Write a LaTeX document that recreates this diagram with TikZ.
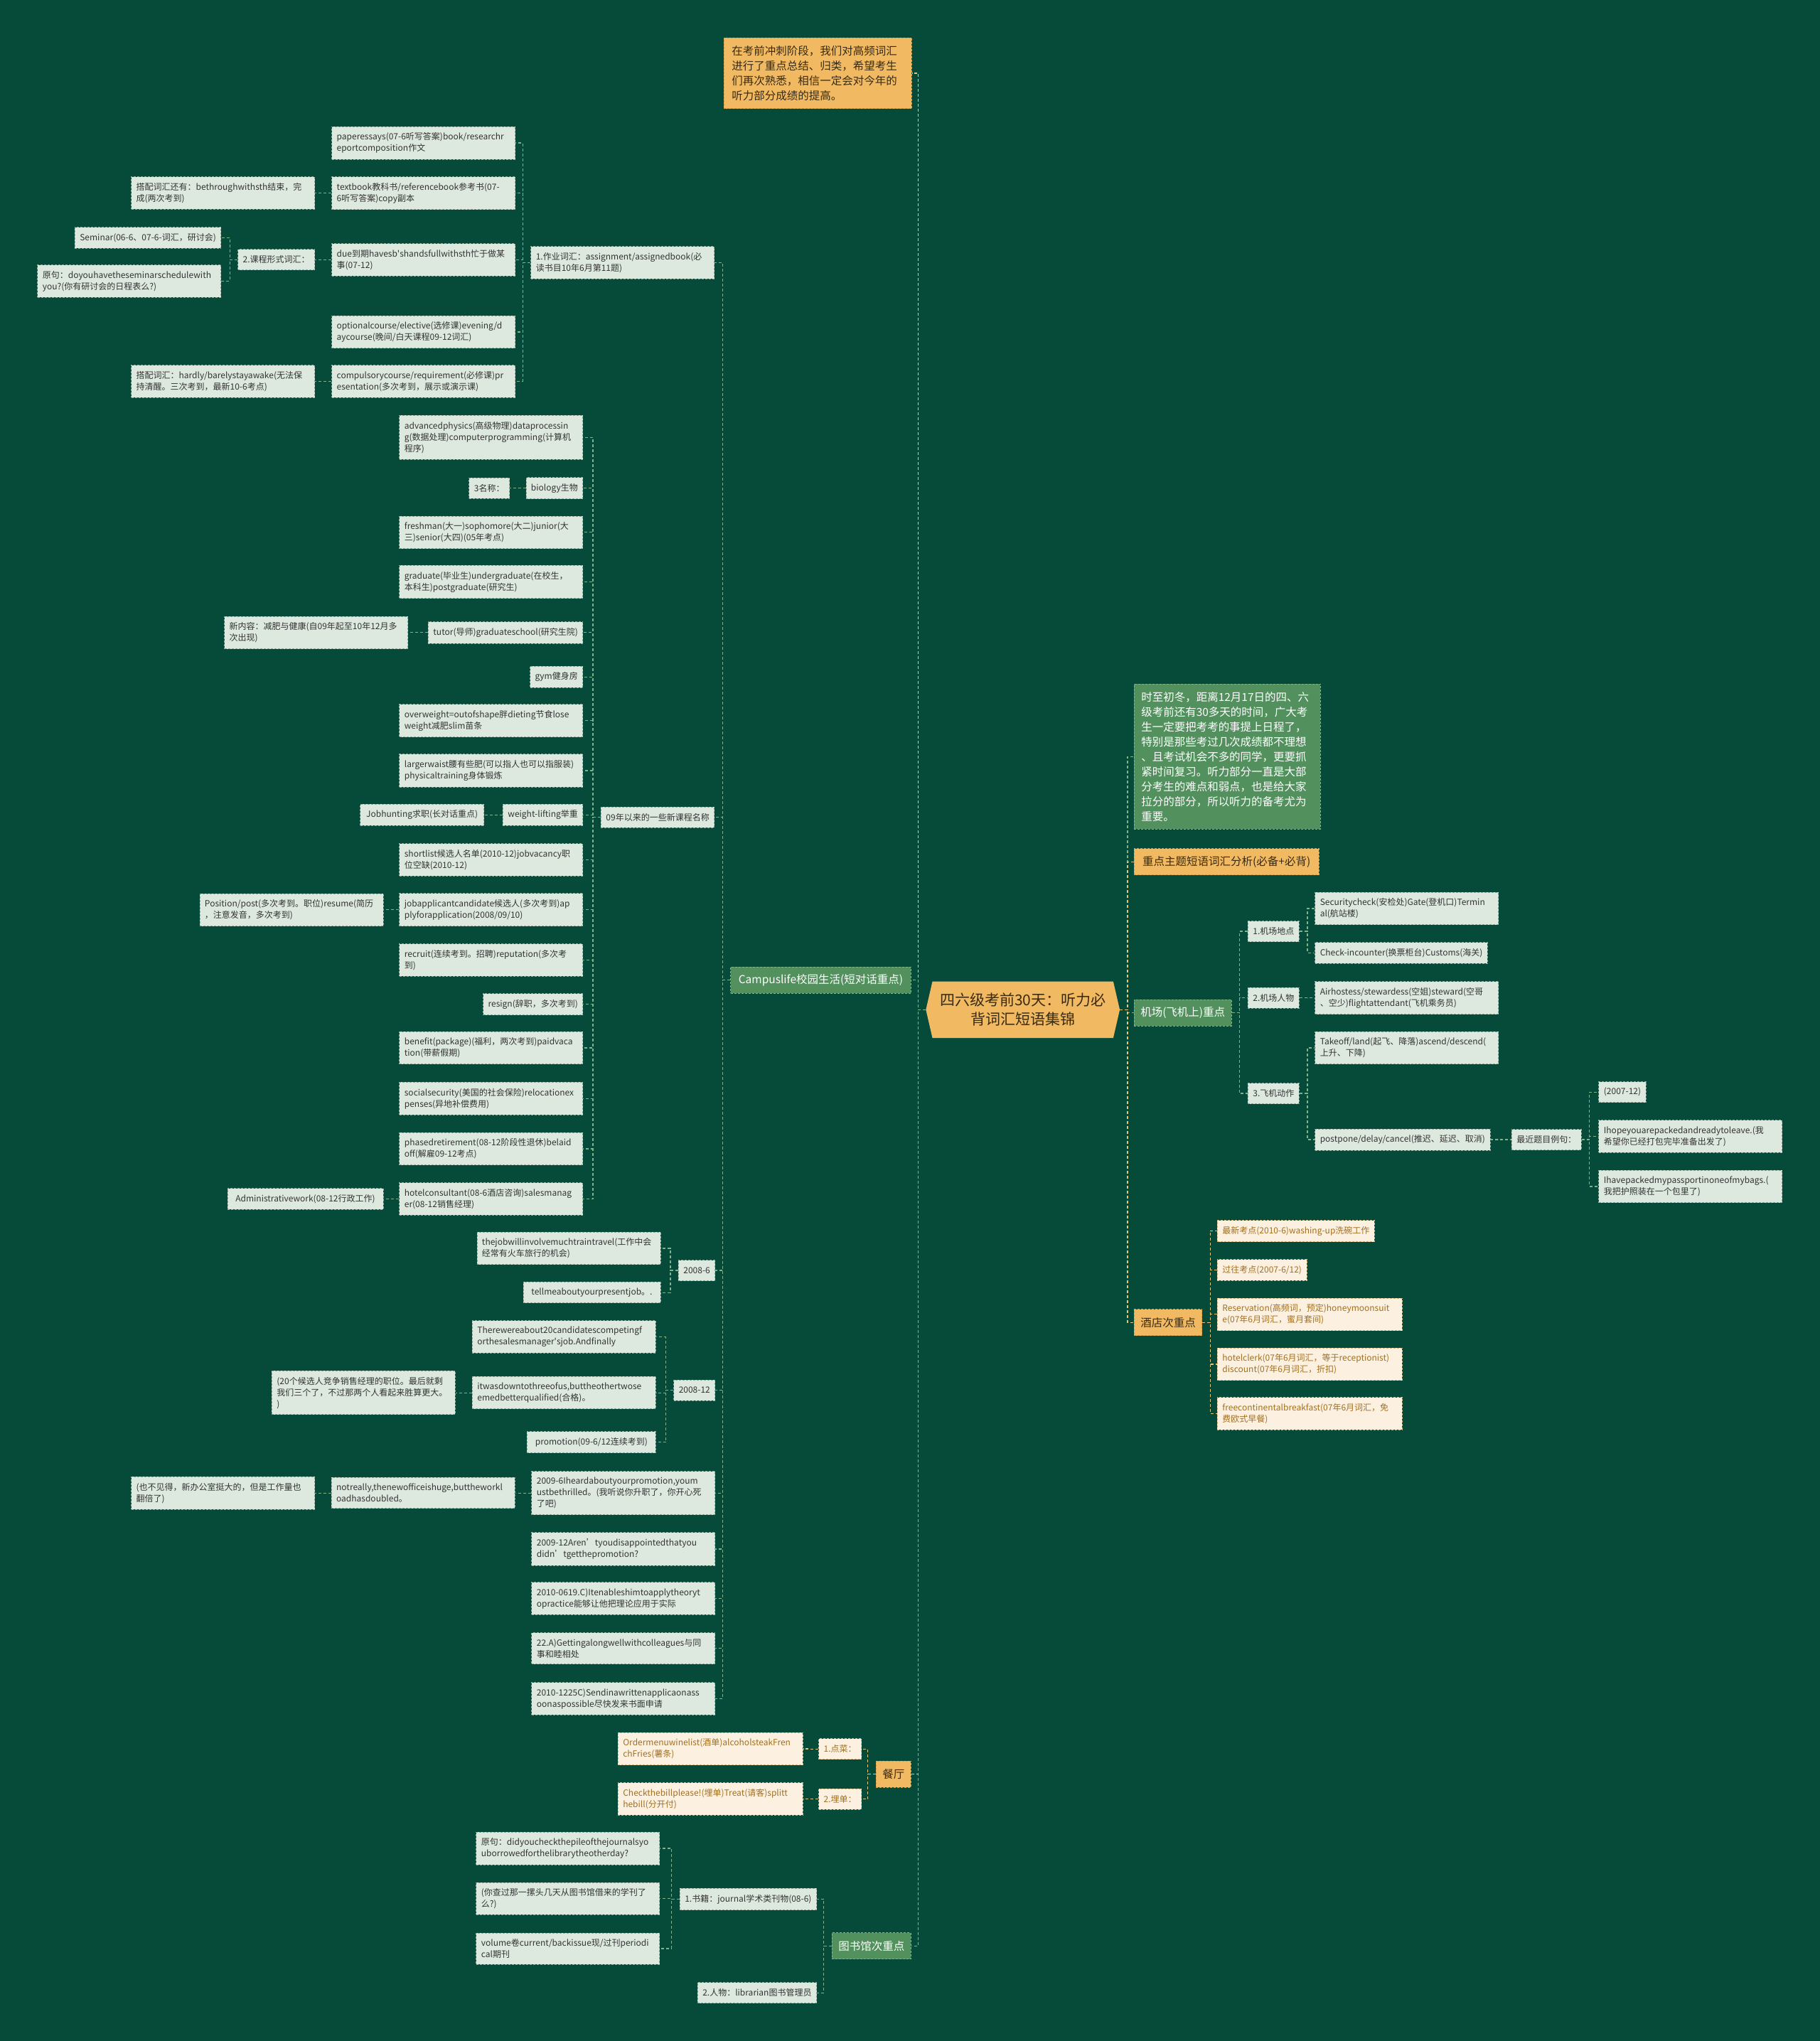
\documentclass[tikz,border=0pt]{standalone}
\usepackage{fontspec}
\setmainfont{Noto Sans CJK SC}
\usetikzlibrary{calc}
\definecolor{bgc}{HTML}{064A3A}
\definecolor{lfill}{HTML}{DDE9DF}
\definecolor{lbord}{HTML}{8FA898}
\definecolor{ltext}{HTML}{333333}
\definecolor{gfill}{HTML}{52915D}
\definecolor{gbord}{HTML}{7DB489}
\definecolor{ofill}{HTML}{F1BA62}
\definecolor{obord}{HTML}{CF9D48}
\definecolor{otext}{HTML}{3A2A10}
\definecolor{bfill}{HTML}{FCF1E1}
\definecolor{bbord}{HTML}{D2B67E}
\definecolor{btext}{HTML}{A26F1F}
\definecolor{lineg}{HTML}{7FB38C}
\definecolor{liney}{HTML}{E3C679}
\pgfdeclarelayer{bottom}
\pgfdeclarelayer{background}
\pgfsetlayers{bottom,background,main}
\newcommand\fs[2]{\fontsize{#1}{#2}\selectfont}
\newcommand\eL[3][lkg]{\draw[#1] (#2.west) -- ++(-6,0) |- (#3.east);}
\newcommand\eR[3][lkg]{\draw[#1] (#2.east) -- ++(6,0) |- (#3.west);}
\newcommand\eLc[3][lkg]{\draw[#1] (#2) -- ++(-6,0) |- (#3.east);}
\newcommand\eRc[3][lkg]{\draw[#1] (#2) -- ++(6,0) |- (#3.west);}
\tikzset{
 box/.style={rectangle, inner xsep=7pt, inner ysep=8.5pt, minimum height=29pt, align=left, font=\fs{12pt}{16pt}, dash pattern=on 3pt off 2pt, line width=0.9pt},
 lb/.style={box, fill=lfill, draw=lbord, text=ltext},
 lw/.style={lb, text width=244pt},
 bb/.style={box, fill=bfill, draw=bbord, text=btext},
 bw/.style={bb, text width=246pt},
 branch/.style={rectangle, inner xsep=9pt, inner ysep=6pt, minimum height=37pt, font=\fs{15.5pt}{20pt}, dash pattern=on 3pt off 2pt, line width=0.9pt},
 gb/.style={branch, fill=gfill, draw=gbord, text=white},
 ob/.style={branch, fill=ofill, draw=obord, text=otext},
 lkg/.style={draw=lineg, line width=1.2pt, dash pattern=on 4pt off 3pt},
 lky/.style={draw=liney, line width=1.2pt, dash pattern=on 4pt off 3pt},
}
\begin{document}
\begin{tikzpicture}[x=1.8312pt,y=-1.8312pt]
\begin{pgfonlayer}{bottom}
\fill[bgc] (0,0) rectangle (1398,1568);
\end{pgfonlayer}
\useasboundingbox (0,0) rectangle (1398,1568);

% ---------- centre ----------
\node[font=\fs{21pt}{27pt}, text=otext, align=center, text width=254pt, minimum height=79pt, inner sep=0pt] (c) at (785.75,775.7) {四六级考前30天：听力必\\背词汇短语集锦};
\begin{pgfonlayer}{background}
\fill[ofill] (c.north west) -- (c.north east) -- ($(c.east)+(5,0)$) -- (c.south east) -- (c.south west) -- ($(c.west)+(-5,0)$) -- cycle;
\end{pgfonlayer}
\coordinate (cL) at ($(c.west)+(-5,0)$);
\coordinate (cR) at ($(c.east)+(5,0)$);

% ---------- left first level ----------
\node[ob, anchor=east, font=\fs{15.5pt}{21pt}, align=left, text width=242pt, inner xsep=11pt, inner ysep=11pt] (tn) at (700.6,56.2) {在考前冲刺阶段，我们对高频词汇\\进行了重点总结、归类，希望考生\\们再次熟悉，相信一定会对今年的\\听力部分成绩的提高。};
\node[gb, anchor=east, minimum width=253.6pt] (camp) at (700,753) {Campuslife校园生活(短对话重点)};
\node[ob, anchor=east] (rest) at (700,1363) {餐厅};
\node[gb, anchor=east] (lib) at (700,1495) {图书馆次重点};

% ---------- campus children ----------
\node[lw, anchor=east] (c1) at (549,201.8) {1.作业词汇：assignment/assignedbook(必\\读书目10年6月第11题)};
\node[lb, anchor=east] (c2) at (549,628) {09年以来的一些新课程名称};
\node[lb, anchor=east] (c3) at (549.6,976) {2008-6};
\node[lb, anchor=east] (c4) at (549.6,1068) {2008-12};
\node[lw, anchor=east] (c5) at (549.6,1147) {2009-6Iheardaboutyourpromotion,youm\\ustbethrilled。(我听说你升职了，你开心死\\了吧)};
\node[lw, anchor=east] (c6) at (549.6,1190) {2009-12Aren’tyoudisappointedthatyou\\didn’tgetthepromotion?};
\node[lw, anchor=east] (c7) at (549.6,1228) {2010-0619.C)Itenableshimtoapplytheoryt\\opractice能够让他把理论应用于实际};
\node[lw, anchor=east] (c8) at (549.6,1266.4) {22.A)Gettingalongwellwithcolleagues与同\\事和睦相处};
\node[lw, anchor=east] (c9) at (549.6,1305) {2010-1225C)Sendinawrittenapplicaonass\\oonaspossible尽快发来书面申请};

% c1 subtree
\node[lw, anchor=east] (c1a) at (396,109.8) {paperessays(07-6听写答案)book/researchr\\eportcomposition作文};
\node[lw, anchor=east] (c1b) at (396,148.3) {textbook教科书/referencebook参考书(07-\\6听写答案)copy副本};
\node[lw, anchor=east] (c1c) at (396,199.5) {due到期havesb\textquotesingle shandsfullwithsth忙于做某\\事(07-12)};
\node[lw, anchor=east] (c1d) at (396,255) {optionalcourse/elective(选修课)evening/d\\aycourse(晚间/白天课程09-12词汇)};
\node[lw, anchor=east] (c1e) at (396,293) {compulsorycourse/requirement(必修课)pr\\esentation(多次考到，展示或演示课)};
\node[lw, anchor=east] (c1b1) at (242,148.3) {搭配词汇还有：bethroughwithsth结束，完\\成(两次考到)};
\node[lb, anchor=east] (c1c1) at (242,199.5) {2.课程形式词汇：};
\node[lb, anchor=east] (c1c1a) at (170,182.6) {Seminar(06-6、07-6-词汇，研讨会)};
\node[lw, anchor=east] (c1c1b) at (170,216) {原句：doyouhavetheseminarschedulewith\\you?(你有研讨会的日程表么?)};
\node[lw, anchor=east] (c1e1) at (242,293) {搭配词汇：hardly/barelystayawake(无法保\\持清醒。三次考到，最新10-6考点)};

% c2 subtree
\node[lw, anchor=east] (c2a) at (448,336) {advancedphysics(高级物理)dataprocessin\\g(数据处理)computerprogramming(计算机\\程序)};
\node[lb, anchor=east] (c2b) at (448,375) {biology生物};
\node[lb, anchor=east] (c2b1) at (391.6,375) {3名称：};
\node[lw, anchor=east] (c2c) at (448,409) {freshman(大一)sophomore(大二)junior(大\\三)senior(大四)(05年考点)};
\node[lw, anchor=east] (c2d) at (448,447) {graduate(毕业生)undergraduate(在校生，\\本科生)postgraduate(研究生)};
\node[lb, anchor=east] (c2e) at (448,486) {tutor(导师)graduateschool(研究生院)};
\node[lw, anchor=east] (c2e1) at (313.5,486) {新内容：减肥与健康(自09年起至10年12月多\\次出现)};
\node[lb, anchor=east] (c2f) at (448,520) {gym健身房};
\node[lw, anchor=east] (c2g) at (448,553.6) {overweight=outofshape胖dieting节食lose\\weight减肥slim苗条};
\node[lw, anchor=east] (c2h) at (448,592) {largerwaist腰有些肥(可以指人也可以指服装)\\physicaltraining身体锻炼};
\node[lb, anchor=east] (c2i) at (448,626) {weight-lifting举重};
\node[lb, anchor=east, minimum width=174pt] (c2i1) at (372,626) {Jobhunting求职(长对话重点)};
\node[lw, anchor=east] (c2j) at (448,660.5) {shortlist候选人名单(2010-12)jobvacancy职\\位空缺(2010-12)};
\node[lw, anchor=east] (c2k) at (448,699) {jobapplicantcandidate候选人(多次考到)ap\\plyforapplication(2008/09/10)};
\node[lw, anchor=east] (c2k1) at (294.6,699) {Position/post(多次考到。职位)resume(简历\\，注意发音，多次考到)};
\node[lw, anchor=east] (c2l) at (448,737.5) {recruit(连续考到。招聘)reputation(多次考\\到)};
\node[lb, anchor=east] (c2m) at (448,771.5) {resign(辞职，多次考到)};
\node[lw, anchor=east] (c2n) at (448,805) {benefit(package)(福利，两次考到)paidvaca\\tion(带薪假期)};
\node[lw, anchor=east] (c2o) at (448,844) {socialsecurity(美国的社会保险)relocationex\\penses(异地补偿费用)};
\node[lw, anchor=east] (c2p) at (448,882.6) {phasedretirement(08-12阶段性退休)belaid\\off(解雇09-12考点)};
\node[lw, anchor=east] (c2q) at (448,921) {hotelconsultant(08-6酒店咨询)salesmanag\\er(08-12销售经理)};
\node[lb, anchor=east, minimum width=219pt] (c2q1) at (294.6,921) {Administrativework(08-12行政工作)};

% c3, c4, c5 subtrees
\node[lw, anchor=east] (c3a) at (507.6,959) {thejobwillinvolvemuchtraintravel(工作中会\\经常有火车旅行的机会)};
\node[lb, anchor=east, minimum width=193pt] (c3b) at (507.6,993) {tellmeaboutyourpresentjob。.};
\node[lw, anchor=east] (c4a) at (504,1027) {Therewereabout20candidatescompetingf\\orthesalesmanager\textquotesingle sjob.Andfinally};
\node[lw, anchor=east] (c4b) at (504,1070) {itwasdowntothreeofus,buttheothertwose\\emedbetterqualified(合格)。};
\node[lw, anchor=east] (c4b1) at (350,1070) {(20个候选人竞争销售经理的职位。最后就剩\\我们三个了，不过那两个人看起来胜算更大。\\)};
\node[lb, anchor=east, minimum width=181pt] (c4c) at (504,1108) {promotion(09-6/12连续考到)};
\node[lw, anchor=east] (c5a) at (395.7,1147) {notreally,thenewofficeishuge,buttheworkl\\oadhasdoubled。};
\node[lw, anchor=east] (c5a1) at (242,1147) {(也不见得，新办公室挺大的，但是工作量也\\翻倍了)};

% restaurant
\node[bb, anchor=east] (r1) at (662,1343.6) {1.点菜：};
\node[bb, anchor=east] (r2) at (662,1382) {2.埋单：};
\node[bw, anchor=east] (r1a) at (617,1343.5) {Ordermenuwinelist(酒单)alcoholsteakFren\\chFries(薯条)};
\node[bw, anchor=east] (r2a) at (617,1382) {Checkthebillplease!(埋单)Treat(请客)splitt\\hebill(分开付)};

% library
\node[lb, anchor=east] (l1) at (627.5,1459) {1.书籍：journal学术类刊物(08-6)};
\node[lb, anchor=east] (l2) at (627.5,1531) {2.人物：librarian图书管理员};
\node[lw, anchor=east] (l1a) at (507,1420) {原句：didyoucheckthepileofthejournalsyo\\uborrowedforthelibrarytheotherday?};
\node[lw, anchor=east] (l1b) at (507,1458.6) {(你查过那一摞头几天从图书馆借来的学刊了\\么?)};
\node[lw, anchor=east] (l1c) at (507,1497) {volume卷current/backissue现/过刊periodi\\cal期刊};

% ---------- right first level ----------
\node[gb, anchor=west, font=\fs{15.5pt}{21pt}, align=left, text width=242pt, inner xsep=10pt, inner ysep=11pt] (gn) at (871,581.2) {时至初冬，距离12月17日的四、六\\级考前还有30多天的时间，广大考\\生一定要把考考的事提上日程了，\\特别是那些考过几次成绩都不理想\\、且考试机会不多的同学，更要抓\\紧时间复习。听力部分一直是大部\\分考生的难点和弱点，也是给大家\\拉分的部分，所以听力的备考尤为\\重要。};
\node[ob, anchor=west, minimum width=260pt] (key) at (871,662) {重点主题短语词汇分析(必备+必背)};
\node[gb, anchor=west] (air) at (871,778) {机场(飞机上)重点};
\node[ob, anchor=west] (hot) at (871,1016) {酒店次重点};

% airport
\node[lb, anchor=west] (a1) at (958.5,715.5) {1.机场地点};
\node[lb, anchor=west] (a2) at (958.5,766.7) {2.机场人物};
\node[lb, anchor=west] (a3) at (958.5,840) {3.飞机动作};
\node[lw, anchor=west] (a1a) at (1010,698) {Securitycheck(安检处)Gate(登机口)Termin\\al(航站楼)};
\node[lb, anchor=west] (a1b) at (1010,732) {Check-incounter(换票柜台)Customs(海关)};
\node[lw, anchor=west] (a2a) at (1010,766.6) {Airhostess/stewardess(空姐)steward(空哥\\、空少)flightattendant(飞机乘务员)};
\node[lw, anchor=west] (a3a) at (1010,805) {Takeoff/land(起飞、降落)ascend/descend(\\上升、下降)};
\node[lb, anchor=west] (a3b) at (1010,875.5) {postpone/delay/cancel(推迟、延迟、取消)};
\node[lb, anchor=west] (a3b1) at (1161,875.5) {最近题目例句：};
\node[lb, anchor=west] (e1) at (1228,839) {(2007-12)};
\node[lw, anchor=west] (e2) at (1228,873) {Ihopeyouarepackedandreadytoleave.(我\\希望你已经打包完毕准备出发了)};
\node[lw, anchor=west] (e3) at (1228,911.5) {Ihavepackedmypassportinoneofmybags.(\\我把护照装在一个包里了)};

% hotel
\node[bb, anchor=west] (h1) at (935,945.7) {最新考点(2010-6)washing-up洗碗工作};
\node[bb, anchor=west] (h2) at (935,975.6) {过往考点(2007-6/12)};
\node[bw, anchor=west] (h3) at (935,1009.7) {Reservation(高频词，预定)honeymoonsuit\\e(07年6月词汇，蜜月套间)};
\node[bw, anchor=west] (h4) at (935,1048) {hotelclerk(07年6月词汇，等于receptionist)\\discount(07年6月词汇，折扣)};
\node[bw, anchor=west] (h5) at (935,1086) {freecontinentalbreakfast(07年6月词汇，免\\费欧式早餐)};

% ---------- connectors ----------
\eLc[lky]{cL}{tn}
\eLc{cL}{camp}
\eLc[lky]{cL}{rest}
\eLc{cL}{lib}
\eRc{cR}{gn}
\eRc[lky]{cR}{key}
\eRc{cR}{air}
\eRc[lky]{cR}{hot}

\foreach \k in {c1,c2,c3,c4,c5,c6,c7,c8,c9}{\eL{camp}{\k}}
\foreach \k in {c1a,c1b,c1c,c1d,c1e}{\eL{c1}{\k}}
\eL{c1b}{c1b1}
\eL{c1c}{c1c1}
\eL{c1c1}{c1c1a}
\eL{c1c1}{c1c1b}
\eL{c1e}{c1e1}
\foreach \k in {c2a,c2b,c2c,c2d,c2e,c2f,c2g,c2h,c2i,c2j,c2k,c2l,c2m,c2n,c2o,c2p,c2q}{\eL{c2}{\k}}
\eL{c2b}{c2b1}
\eL{c2e}{c2e1}
\eL{c2i}{c2i1}
\eL{c2k}{c2k1}
\eL{c2q}{c2q1}
\eL{c3}{c3a}
\eL{c3}{c3b}
\eL{c4}{c4a}
\eL{c4}{c4b}
\eL{c4}{c4c}
\eL{c4b}{c4b1}
\eL{c5}{c5a}
\eL{c5a}{c5a1}

\eL[lky]{rest}{r1}
\eL[lky]{rest}{r2}
\eL[lky]{r1}{r1a}
\eL[lky]{r2}{r2a}

\eL{lib}{l1}
\eL{lib}{l2}
\eL{l1}{l1a}
\eL{l1}{l1b}
\eL{l1}{l1c}

\eR{air}{a1}
\eR{air}{a2}
\eR{air}{a3}
\eR{a1}{a1a}
\eR{a1}{a1b}
\eR{a2}{a2a}
\eR{a3}{a3a}
\eR{a3}{a3b}
\eR{a3b}{a3b1}
\eR{a3b1}{e1}
\eR{a3b1}{e2}
\eR{a3b1}{e3}

\foreach \k in {h1,h2,h3,h4,h5}{\eR[lky]{hot}{\k}}
\end{tikzpicture}
\end{document}
